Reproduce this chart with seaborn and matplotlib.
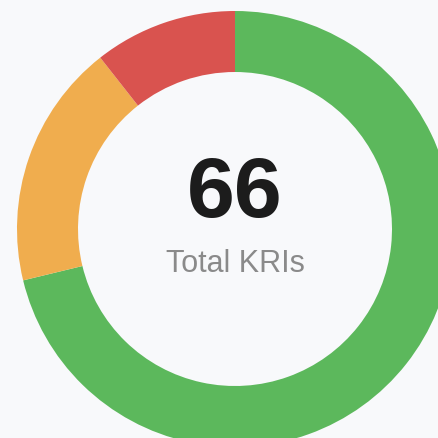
import matplotlib
matplotlib.use('Agg')
import matplotlib.pyplot as plt
import seaborn as sns

# KRI status counts, clockwise from the top
status = ['Green', 'Amber', 'Red']
counts = [47, 12, 7]
colours = ['#5cb85c', '#f0ad4e', '#d9534f']
total = sum(counts)
caption = 'Total KRIs'

sns.set_style('white')
plt.rcParams['font.family'] = ['Liberation Sans', 'DejaVu Sans']

bg = '#f8f9fb'
fig = plt.figure(figsize=(4.39, 4.39), dpi=100, facecolor=bg)
ax = fig.add_axes([0, 0, 1, 1])
ax.set_facecolor(bg)

# chart is cropped: donut centre sits at (235, 230) px, outer radius 218 px
cx, cy, r = 235, 439 - 230, 218
ax.pie(counts, colors=colours, startangle=90, counterclock=False,
       center=(cx, cy), radius=r,
       wedgeprops=dict(width=r - 157, linewidth=0, antialiased=True))

ax.text(cx, 439 - 195, str(total), ha='center', va='center',
        fontsize=62, fontweight='bold', color='#1c1c1c')
ax.text(cx, 439 - 264, caption, ha='center', va='center',
        fontsize=22, color='#8a8a8a')

ax.set_xlim(0, 439)
ax.set_ylim(0, 439)
ax.set_aspect('equal')
ax.axis('off')

plt.savefig('out.png', dpi=100, facecolor=bg)
